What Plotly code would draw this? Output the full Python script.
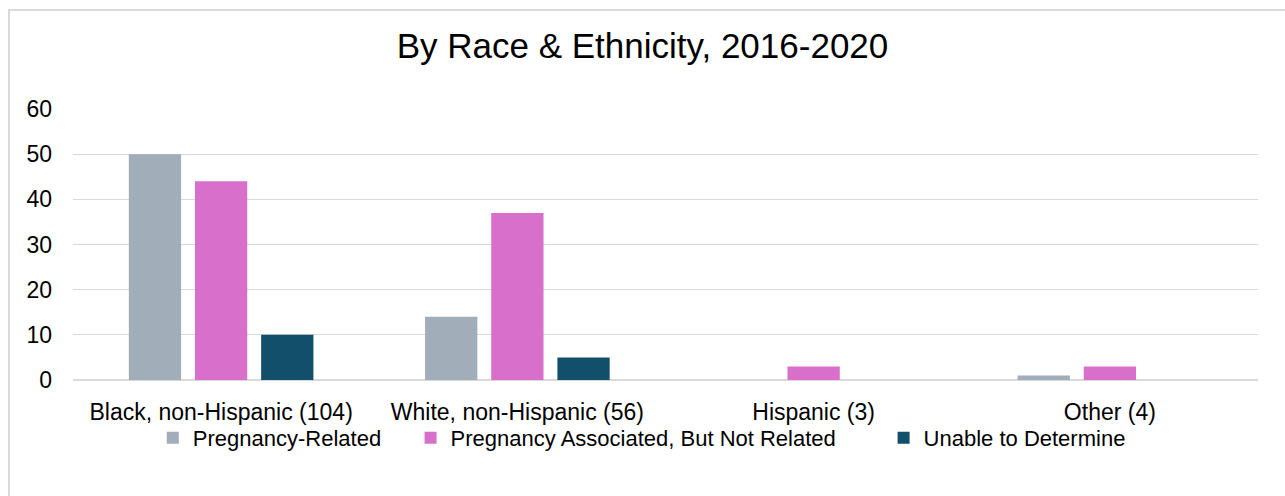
import plotly.graph_objects as go

categories = ["Black, non-Hispanic (104)", "White, non-Hispanic (56)", "Hispanic (3)", "Other (4)"]
series_names = ["Pregnancy-Related", "Pregnancy Associated, But Not Related", "Unable to Determine"]
pregnancy_related = [50, 14, 0, 1]
associated_not_related = [44, 37, 3, 3]
unable_to_determine = [10, 5, 0, 0]
colors = ["#A1ADB9", "#D76FCB", "#124F6B"]
y_ticks = [0, 10, 20, 30, 40, 50, 60]

FONT = "Liberation Sans"
PADS = ["\u00a0" * 4, "\u00a0" * 7, ""]

fig = go.Figure()
for name, vals, col, pad in zip(series_names,
                                [pregnancy_related, associated_not_related, unable_to_determine],
                                colors, PADS):
    fig.add_trace(go.Bar(x=categories, y=vals, name=name + pad,
                         marker=dict(color=col, line=dict(width=0))))

W, H = 1285, 496
L, R, T, B = 73, 27, 109, 116
pw, ph = W - L - R, H - T - B

fig.update_layout(
    width=W, height=H,
    margin=dict(l=L, r=R, t=T, b=B),
    paper_bgcolor="white", plot_bgcolor="white",
    barmode="group", bargap=0.33, bargroupgap=0.21,
    font=dict(family=FONT, size=23, color="#000000"),
    title=dict(text="By Race & Ethnicity, 2016-2020", x=0.5, xanchor="center",
               y=1 - 46 / H, yref="container", yanchor="middle",
               font=dict(family=FONT, size=35, color="#000000")),
    legend=dict(orientation="h", x=0.48, xanchor="center", y=(380 - 438) / ph, yanchor="middle",
                font=dict(family=FONT, size=22, color="#000000"), itemwidth=30,
                bgcolor="rgba(0,0,0,0)", traceorder="normal"),
    xaxis=dict(showgrid=False, showline=False, ticks="", ticklabelstandoff=16,
               tickfont=dict(family=FONT, size=23, color="#000000")),
    yaxis=dict(range=[0, 60], tickvals=y_ticks, showgrid=True, gridcolor="#D9D9D9", gridwidth=1,
               zeroline=True, zerolinecolor="#D9D9D9", zerolinewidth=2, showline=False,
               ticks="", ticklabelstandoff=20,
               tickfont=dict(family=FONT, size=23, color="#000000")),
    shapes=[dict(type="rect", xref="paper", yref="paper",
                 x0=(9 - L) / pw, x1=1.3, y0=-1.5, y1=(T + ph - 10) / ph,
                 line=dict(color="#D9D9D9", width=2), fillcolor="rgba(0,0,0,0)", layer="below")],
)

fig.write_html("out.html")
